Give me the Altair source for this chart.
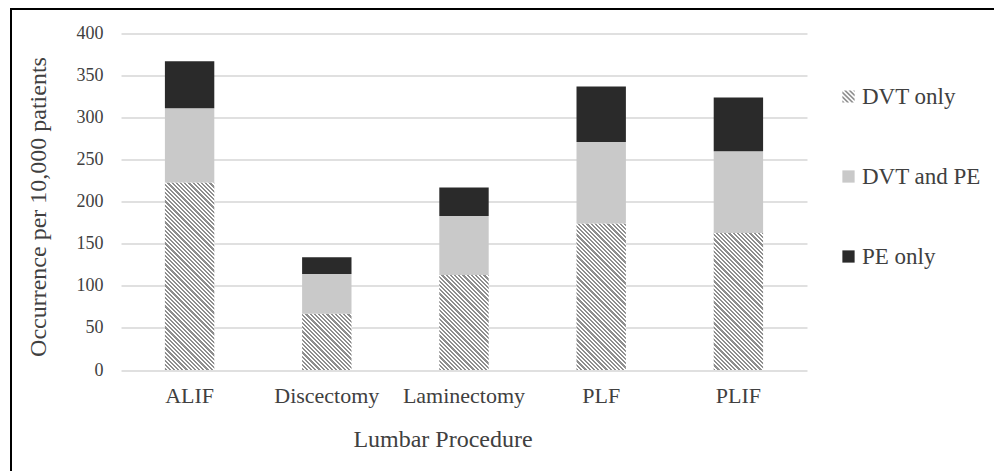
import altair as alt
import pandas as pd

# ---------------- data ----------------
procedures = ["ALIF", "Discectomy", "Laminectomy", "PLF", "PLIF"]
dvt_only = [223, 67, 113, 174, 163]
dvt_and_pe = [88, 47, 70, 97, 97]
pe_only = [56, 20, 34, 66, 64]
series_names = ["DVT only", "DVT and PE", "PE only"]
y_ticks = [0, 50, 100, 150, 200, 250, 300, 350, 400]

# ---------------- style ----------------
FONT = "Liberation Serif"
TXT = "#404040"
GRID = "#d6d6d6"
LIGHT = "#c9c9c9"
DARK = "#2a2a2a"
HATCH_DARK = "#8e8e8e"
HATCH_LIGHT = "#ffffff"
PLOT_W, PLOT_H = 686, 336.5
PAD_L, PAD_T = 121, 33.5
P_INNER, P_OUTER = 0.64, 0.32
YMAX = 400

step = PLOT_W / (len(procedures) - P_INNER + 2 * P_OUTER)
bar_w = step * (1 - P_INNER)


def hatch_gradient(w, h, period=4.2, duty=0.5):
    """Diagonal stripes (\\\\) as a linear gradient in bounding-box units."""
    span = w + h
    n = span / period
    s = span / (w * w + h * h)
    stops = []
    k = 0
    while k / n < 1:
        a, b, c = k / n, (k + duty) / n, (k + 1) / n
        stops.append({"offset": a, "color": HATCH_DARK})
        stops.append({"offset": min(b, 1), "color": HATCH_DARK})
        if b < 1:
            stops.append({"offset": b, "color": HATCH_LIGHT})
            stops.append({"offset": min(c, 1), "color": HATCH_LIGHT})
        k += 1
    return {"gradient": "linear", "x1": 0, "y1": 1, "x2": s * w, "y2": 1 - s * h,
            "stops": stops}


def clip(poly, f):
    out = []
    for i in range(len(poly)):
        p, q = poly[i], poly[(i + 1) % len(poly)]
        fp, fq = f(p), f(q)
        if fp >= 0:
            out.append(p)
        if (fp >= 0) != (fq >= 0):
            t = fp / (fp - fq)
            out.append((p[0] + t * (q[0] - p[0]), p[1] + t * (q[1] - p[1])))
    return out


def hatch_symbol(period=0.75, duty=0.5):
    square = [(-1, -1), (1, -1), (1, 1), (-1, 1)]
    parts = []
    c0 = -2.0
    while c0 < 2:
        c1 = c0 + period * duty
        poly = clip(square, lambda p, c=c0: (p[0] - p[1]) - c)
        poly = clip(poly, lambda p, c=c1: c - (p[0] - p[1]))
        if len(poly) >= 3:
            parts.append("M" + "L".join(f"{x:.3f},{y:.3f}" for x, y in poly) + "Z")
        c0 += period
    return "".join(parts)


df = pd.DataFrame({
    "procedure": procedures,
    "dvt_only": dvt_only,
    "dvt_and_pe": dvt_and_pe,
    "pe_only": pe_only,
})

x_enc = alt.X(
    "procedure:N",
    scale=alt.Scale(domain=procedures, paddingInner=P_INNER, paddingOuter=P_OUTER),
    axis=alt.Axis(
        title="Lumbar Procedure", labelAngle=0, domain=False, ticks=False, grid=False,
        labelFont=FONT, labelFontSize=22, labelColor=TXT, labelPadding=15,
        titleFont=FONT, titleFontSize=24, titleFontWeight="normal", titleColor=TXT,
        titleX=321.5, titleY=76, titleBaseline="alphabetic", titleAlign="center",
    ),
)
y_scale = alt.Scale(domain=[0, YMAX], nice=False, zero=True)
y_axis = alt.Axis(
    title="Occurrence per 10,000 patients", values=y_ticks, grid=True,
    gridColor=GRID, gridWidth=1.5, domain=False, ticks=False,
    labelFont=FONT, labelFontSize=18, labelColor=TXT, labelPadding=18,
    titleFont=FONT, titleFontSize=24, titleFontWeight="normal", titleColor=TXT,
    titleX=-83, titleY=173, titleBaseline="middle", titleAlign="center",
)

base = alt.Chart(df).transform_calculate(
    top_both="datum.dvt_only + datum.dvt_and_pe",
    total="datum.dvt_only + datum.dvt_and_pe + datum.pe_only",
)

layers = []
for i, p in enumerate(procedures):
    h = dvt_only[i] / YMAX * PLOT_H
    layers.append(
        base.transform_filter(alt.datum.procedure == p)
        .mark_bar(fill=hatch_gradient(bar_w, h))
        .encode(x=x_enc, y=alt.Y("dvt_only:Q", scale=y_scale, axis=y_axis, stack=None))
    )

gray = base.mark_bar(fill=LIGHT).encode(
    x=x_enc, y=alt.Y("top_both:Q", scale=y_scale, axis=y_axis), y2="dvt_only:Q")
dark = base.mark_bar(fill=DARK).encode(
    x=x_enc, y=alt.Y("total:Q", scale=y_scale, axis=y_axis), y2="top_both:Q")

legend_df = pd.DataFrame({"series": series_names})
leg_props = dict(
    orient="none", legendX=716, legendY=51.5, title=None, padding=0,
    labelFont=FONT, labelFontSize=23, labelColor=TXT, labelOffset=2,
    symbolSize=150, symbolStrokeWidth=0, rowPadding=56,
)
legend_layer = alt.Chart(legend_df).transform_filter("false").mark_point(
    filled=True, opacity=1).encode(
    color=alt.Color("series:N", scale=alt.Scale(domain=series_names,
                    range=[HATCH_DARK, LIGHT, DARK]), legend=alt.Legend(**leg_props)),
    shape=alt.Shape("series:N", scale=alt.Scale(domain=series_names,
                    range=[hatch_symbol(), "square", "square"]), legend=alt.Legend(**leg_props)),
)

border = alt.Chart(pd.DataFrame({"b": [0]})).mark_rect(
    fillOpacity=0, stroke="black", strokeWidth=2).encode(
    x=alt.value(11 - PAD_L), x2=alt.value(994 - PAD_L + 10),
    y=alt.value(9 - PAD_T), y2=alt.value(471 - PAD_T + 10),
)

chart = alt.layer(*layers, gray, dark, legend_layer, border).properties(
    width=PLOT_W, height=PLOT_H,
    autosize=alt.AutoSizeParams(type="none"),
    padding={"left": PAD_L, "top": PAD_T, "right": 994 - PAD_L - PLOT_W,
             "bottom": 471 - PAD_T - PLOT_H},
    background="white",
).configure_view(stroke=None)

chart.save("out.html", embed_options={"renderer": "svg", "actions": False})
